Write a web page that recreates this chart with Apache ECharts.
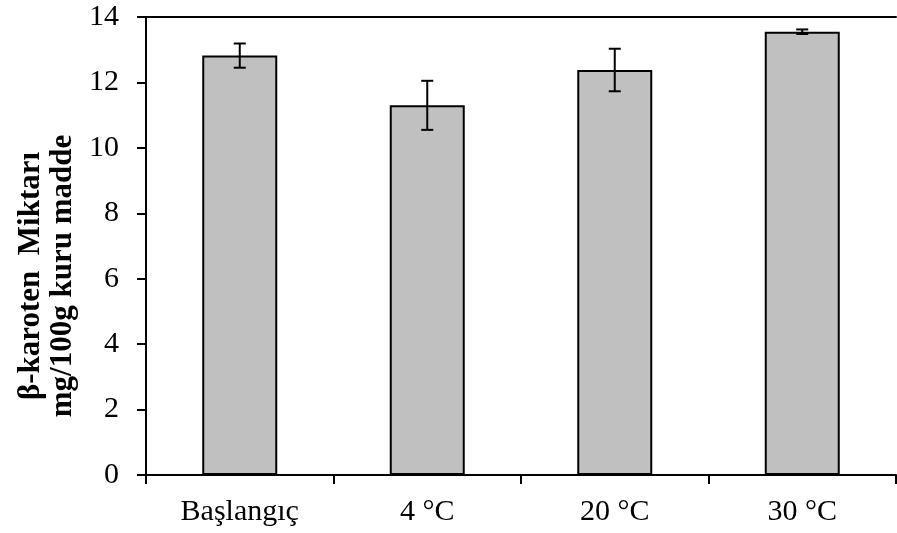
<!DOCTYPE html>
<html><head><meta charset="utf-8">
<script src="https://cdn.jsdelivr.net/npm/echarts@6/dist/echarts.min.js"></script>
<style>html,body{margin:0;padding:0;background:#fff}#c{width:897px;height:533px}</style>
</head><body><div id="c"></div>
<script>
var categories = ['Başlangıç', '4 °C', '20 °C', '30 °C'];
var values = [12.82, 11.30, 12.38, 13.55];
var errors = [0.37, 0.75, 0.65, 0.07];
var yTicks = [0, 2, 4, 6, 8, 10, 12, 14];
var yTitle1 = 'β-karoten  Miktarı';
var yTitle2 = 'mg/100g kuru madde';

var font = 'Liberation Serif';
var chart = echarts.init(document.getElementById('c'));
var errData = values.map(function (v, i) { return [i, v - errors[i], v + errors[i]]; });

chart.setOption({
  animation: false,
  grid: { left: 146, right: 1, top: 17, bottom: 58 },
  xAxis: [{
    type: 'category', data: categories, boundaryGap: true,
    axisLine: { lineStyle: { color: '#000', width: 2 } },
    axisTick: { show: true, alignWithLabel: false, length: 9, lineStyle: { color: '#000', width: 2 } },
    axisLabel: { color: '#000', fontFamily: font, fontSize: 30, margin: 22 }
  }, {
    type: 'category', data: categories, position: 'top',
    axisLine: { show: true, lineStyle: { color: '#000', width: 2 } },
    axisTick: { show: false }, axisLabel: { show: false }
  }],
  yAxis: {
    type: 'value', min: 0, max: 14, interval: 2,
    axisLine: { show: true, lineStyle: { color: '#000', width: 2 } },
    axisTick: { show: true, length: 9, lineStyle: { color: '#000', width: 2 } },
    splitLine: { show: false },
    axisLabel: { color: '#000', fontFamily: font, fontSize: 30, margin: 27,
      formatter: function (v) { return yTicks.indexOf(v) >= 0 ? String(v) : ''; } }
  },
  graphic: [{
    type: 'text', x: 47, y: 276, rotation: Math.PI / 2,
    style: { text: yTitle1 + '\n' + yTitle2, fill: '#000', fontFamily: font, fontWeight: 'bold', fontSize: 31,
      align: 'center', verticalAlign: 'middle', lineHeight: 32 }
  }],
  series: [{
    type: 'bar', data: values, barWidth: 75,
    itemStyle: { color: '#c0c0c0', borderColor: '#000', borderWidth: 2 }
  }, {
    type: 'custom', data: errData, z: 10,
    renderItem: function (params, api) {
      var x = api.value(0);
      var lo = api.coord([x, api.value(1)]);
      var hi = api.coord([x, api.value(2)]);
      var w = 6;
      var st = { stroke: '#000', lineWidth: 2 };
      return { type: 'group', children: [
        { type: 'line', shape: { x1: lo[0], y1: lo[1], x2: hi[0], y2: hi[1] }, style: st },
        { type: 'line', shape: { x1: lo[0] - w, y1: lo[1], x2: lo[0] + w, y2: lo[1] }, style: st },
        { type: 'line', shape: { x1: hi[0] - w, y1: hi[1], x2: hi[0] + w, y2: hi[1] }, style: st }
      ] };
    }
  }]
});
</script></body></html>
